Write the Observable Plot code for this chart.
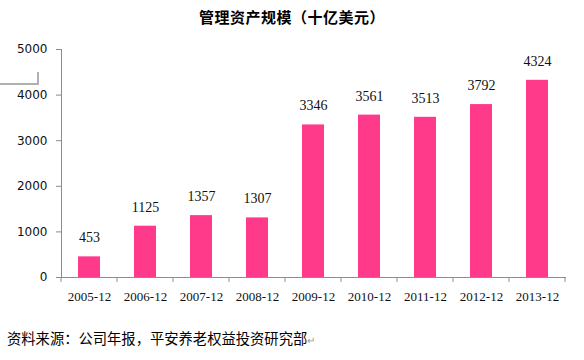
<!DOCTYPE html>
<html>
<head>
<meta charset="utf-8">
<script src="https://cdn.jsdelivr.net/npm/d3@7"></script>
<script src="https://cdn.jsdelivr.net/npm/@observablehq/plot@0.6"></script>
<style>
  html, body { margin: 0; padding: 0; background: #fff; }
  #wrap { position: relative; width: 584px; height: 360px; overflow: hidden; }
  #title { height: 34px; line-height: 34px; text-align: center; font-family: "Noto Sans CJK SC", sans-serif; font-weight: bold; font-size: 15px; color: #000; letter-spacing: 0.5px; }
  #caption { position: absolute; left: 7px; top: 329px; font-family: "Noto Sans CJK SC", sans-serif; font-size: 14.3px; color: #000; line-height: 18px; }
  #caption .pm { color: #999; font-size: 10px; }
  #deco { position: absolute; left: -2px; top: 72px; width: 39px; height: 11px; border-right: 2px solid #b0b0b0; border-bottom: 2px solid #b0b0b0; }
</style>
</head>
<body>
<div id="wrap">
  <div id="title">管理资产规模（十亿美元）</div>
  <div id="chart"></div>
  <div id="deco"></div>
  <div id="caption">资料来源：公司年报，平安养老权益投资研究部<span class="pm">↵</span></div>
</div>
<script>
const categories = ["2005-12", "2006-12", "2007-12", "2008-12", "2009-12", "2010-12", "2011-12", "2012-12", "2013-12"];
const values = [453, 1125, 1357, 1307, 3346, 3561, 3513, 3792, 4324];
const yTicks = [0, 1000, 2000, 3000, 4000, 5000];

const data = categories.map((c, i) => ({category: c, value: values[i]}));

const barColor = "#ff3a8a";
const axisColor = "#8c8c8c";

const chart = Plot.plot({
  width: 584,
  height: 276,
  marginLeft: 61,
  marginRight: 18,
  marginTop: 15,
  marginBottom: 33,
  style: { background: "#fff", overflow: "visible" },
  x: { domain: categories, paddingInner: 0.6, paddingOuter: 0.3, label: null },
  y: { domain: [0, 5000], ticks: yTicks, label: null },
  marks: [
    Plot.frame({ anchor: "left", stroke: axisColor, strokeOpacity: 1 }),
    Plot.barY(data, { x: "category", y: "value", fill: barColor }),
    Plot.ruleY([0], { stroke: axisColor, strokeOpacity: 1 }),
    Plot.text(data, { x: "category", y: "value", text: d => String(d.value), dy: -19, fill: "#111" }),
    Plot.axisY({ ticks: yTicks, tickSize: 5, tickPadding: 9, stroke: axisColor, strokeOpacity: 1, fill: "#111", tickFormat: d => String(d), label: null }),
    Plot.axisX({ tickSize: 0, tickPadding: 14, fill: "#111", label: null })
  ]
});

document.getElementById("chart").appendChild(chart);

const svg = d3.select(chart);
svg.selectAll("text").each(function () {
  const t = this.textContent;
  if (/^\d{4}-\d{2}$/.test(t)) {
    this.style.fontFamily = '"Liberation Serif", serif';
    this.style.fontSize = "13px";
  } else if (this.closest('[aria-label*="y-axis"]')) {
    this.style.fontFamily = '"DejaVu Sans", sans-serif';
    this.style.fontSize = "12px";
  } else {
    this.style.fontFamily = '"Liberation Serif", serif';
    this.style.fontSize = "14px";
  }
});

// tick marks at band boundaries below the baseline
const xs = chart.scale("x");
const ys = chart.scale("y");
const step = xs.step;
const baseY = ys.apply(0);
const bounds = categories.map(c => xs.apply(c) + xs.bandwidth / 2 - step / 2);
bounds.push(xs.apply(categories[categories.length - 1]) + xs.bandwidth / 2 + step / 2);
svg.append("g")
  .selectAll("line")
  .data(bounds)
  .join("line")
  .attr("x1", d => d).attr("x2", d => d)
  .attr("y1", baseY).attr("y2", baseY + 5)
  .attr("stroke", axisColor);
</script>
</body>
</html>
